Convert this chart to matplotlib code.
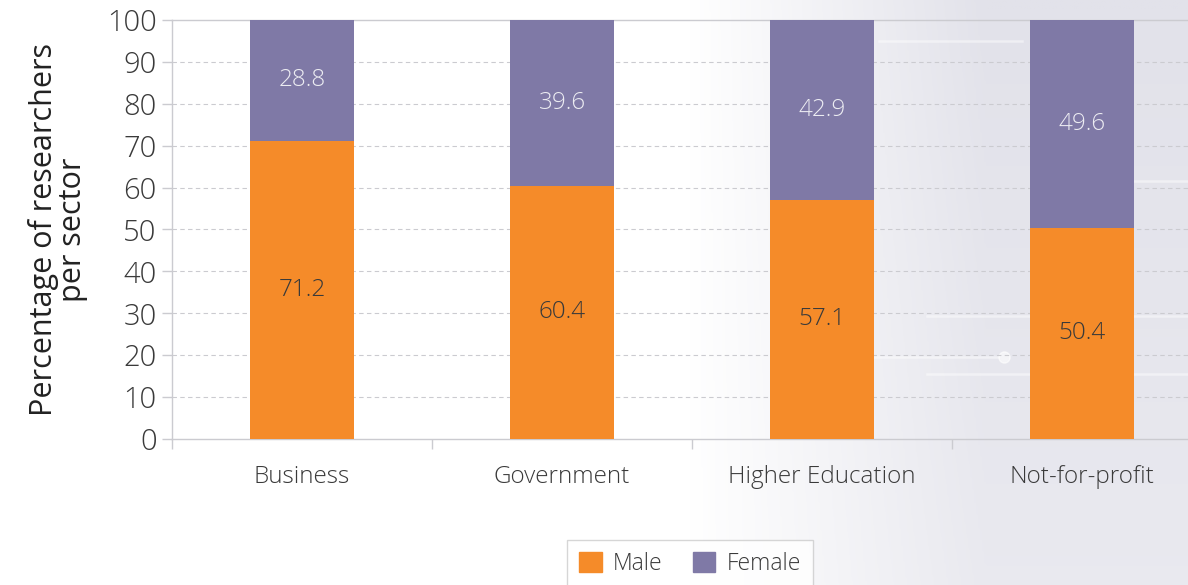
import numpy as np
import matplotlib
matplotlib.use("Agg")
import matplotlib.pyplot as plt
from matplotlib.colors import LinearSegmentedColormap
from matplotlib.patches import Patch

sectors = ["Business", "Government", "Higher Education", "Not-for-profit"]
male = [71.2, 60.4, 57.1, 50.4]
female = [28.8, 39.6, 42.9, 49.6]
y_ticks = [0, 10, 20, 30, 40, 50, 60, 70, 80, 90, 100]

ORANGE = "#F58B29"
PURPLE = "#7F79A6"
TEXT = "#3A3A3A"
GRID = "#CBCBD0"

plt.rcParams["font.family"] = ["Open Sans", "DejaVu Sans"]
plt.rcParams["font.weight"] = "light"

fig = plt.figure(figsize=(11.88, 5.85), dpi=100)

# soft lavender wash on the right half of the page
bg = fig.add_axes([0, 0, 1, 1], zorder=-10)
bg.set_axis_off()
xs = np.linspace(0, 1, 600)
ys = np.linspace(0, 1, 300)
X, Y = np.meshgrid(xs, ys)
wash = np.clip((X - 0.58) / 0.25, 0, 1) * (0.75 + 0.25 * Y)
cmap = LinearSegmentedColormap.from_list("wash", ["#FFFFFF", "#E2E2EA"])
bg.imshow(wash, cmap=cmap, vmin=0, vmax=1, aspect="auto", origin="lower",
          extent=[0, 1, 0, 1])
bg.set_xlim(0, 1)
bg.set_ylim(0, 1)
# faint circuit traces
for (x0, x1, yy) in [(0.74, 0.86, 0.93), (0.78, 1.0, 0.46), (0.72, 0.84, 0.39),
                     (0.78, 1.0, 0.36), (0.88, 1.0, 0.69)]:
    bg.plot([x0, x1], [yy, yy], color="white", lw=1.8, alpha=0.45)
bg.plot([0.845], [0.39], marker="o", ms=8, color="white", alpha=0.6)

ax = fig.add_axes([172 / 1188, 146 / 585, 1040 / 1188, 419 / 585])
ax.patch.set_alpha(0)

x = np.arange(len(sectors))
w = 0.4
ax.bar(x, male, width=w, color=ORANGE, label="Male", zorder=3)
ax.bar(x, female, width=w, bottom=male, color=PURPLE, label="Female", zorder=3)

for xi, m, f in zip(x, male, female):
    ax.text(xi, m / 2, f"{m:.1f}", ha="center", va="center", fontsize=17.5,
            color=TEXT, zorder=4)
    ax.text(xi, m + f / 2, f"{f:.1f}", ha="center", va="center", fontsize=17.5,
            color="#ECECF2", zorder=4)

ax.set_xlim(-0.5, len(sectors) - 0.5)
ax.set_ylim(0, 100)
ax.set_yticks(y_ticks)
ax.set_yticklabels([str(t) for t in y_ticks], fontsize=21, color=TEXT)
ax.set_xticks(x)
ax.set_xticklabels(sectors, fontsize=17.5, color=TEXT)
ax.set_xticks(np.arange(len(sectors)) - 0.5, minor=True)
ax.tick_params(axis="x", which="major", length=0, pad=19)
ax.tick_params(axis="x", which="minor", length=7, color=GRID, width=1)
ax.tick_params(axis="y", length=7, color=GRID, width=1, pad=4)

for t in y_ticks[1:-1]:
    ax.axhline(t, color=GRID, lw=0.8, ls=(0, (4, 3)), zorder=1)

for side in ["left", "bottom", "top"]:
    ax.spines[side].set_color(GRID)
    ax.spines[side].set_linewidth(1)
ax.spines["right"].set_visible(False)

ax.set_ylabel("Percentage of researchers\nper sector", fontsize=22,
              color="#222222", labelpad=14, linespacing=0.95)

handles = [Patch(color=ORANGE, label="Male"), Patch(color=PURPLE, label="Female")]
leg = fig.legend(handles=handles, loc="center", bbox_to_anchor=(690 / 1188, 1 - 564 / 585),
                 ncol=2, frameon=True, fontsize=16.5, handlelength=1.0, handleheight=1.0,
                 handletextpad=0.5, columnspacing=1.3, borderpad=0.5, fancybox=False)
leg.get_frame().set_edgecolor("#CCCCCC")
leg.get_frame().set_facecolor("white")
for t in leg.get_texts():
    t.set_color(TEXT)

fig.savefig("out.png", dpi=100)
